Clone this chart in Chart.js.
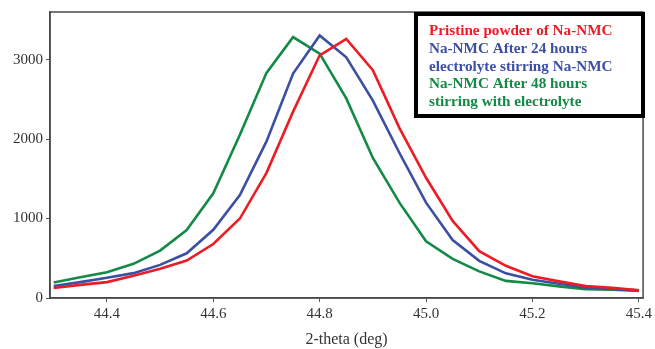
<!DOCTYPE html>
<html lang="en">
<head>
    <meta charset="UTF-8">
    <title>XRD peak around 44.8 deg</title>
    <script src="https://cdn.jsdelivr.net/npm/chart.js"></script>
    <style>
        body {
            margin: 0;
            background-color: #fff;
        }
        #wrap {
            width: 655px;
            height: 349px;
        }
    </style>
</head>
<body>
    <div id="wrap"><canvas id="xrdChart" width="655" height="349"></canvas></div>

    <script>
        // 2-theta positions (deg)
        var twoTheta = [44.30, 44.35, 44.40, 44.45, 44.50, 44.55, 44.60, 44.65, 44.70, 44.75, 44.80, 44.85,
                        44.90, 44.95, 45.00, 45.05, 45.10, 45.15, 45.20, 45.25, 45.30, 45.35, 45.40];

        // intensities
        var pristine = [125, 165, 200, 280, 367, 471, 680, 1000, 1575, 2346, 3055, 3262,
                        2868, 2138, 1513, 971, 590, 405, 275, 209, 150, 130, 96];
        var after24h = [150, 200, 255, 313, 417, 563, 859, 1296, 1971, 2825, 3305, 3030,
                        2484, 1825, 1200, 730, 468, 310, 230, 180, 130, 115, 96];
        var after48h = [195, 260, 325, 430, 596, 855, 1317, 2055, 2834, 3284, 3075, 2513,
                        1763, 1200, 713, 492, 335, 215, 185, 146, 110, 105, 88];

        var seriesNames = ['Pristine powder of Na-NMC', 'Na-NMC After 24 hours electrolyte stirring Na-NMC',
                           'Na-NMC After 48 hours stirring with electrolyte'];
        // legend lines as they are broken in the box
        var legendLines = [
            ['Pristine powder of Na-NMC'],
            ['Na-NMC After 24 hours', 'electrolyte stirring Na-NMC'],
            ['Na-NMC After 48 hours', 'stirring with electrolyte']
        ];
        var colors = ['#ec1c24', '#3b4fa3', '#138a45'];

        var xTicks = [44.4, 44.6, 44.8, 45.0, 45.2, 45.4];
        var yTicks = [0, 1000, 2000, 3000];

        function toPoints(values) {
            return values.map(function (v, i) { return { x: twoTheta[i], y: v }; });
        }

        // frame round the plot + the boxed legend
        var framePlugin = {
            id: 'frameAndLegend',
            afterDraw: function (chart) {
                var ctx = chart.ctx;
                var a = chart.chartArea;
                ctx.save();
                ctx.strokeStyle = '#4a4a4a';
                ctx.lineWidth = 1.5;
                ctx.strokeRect(a.left, a.top, a.right - a.left, a.bottom - a.top);

                // legend box
                var bx = 416, by = 14, bw = 227, bh = 102;
                ctx.fillStyle = '#fff';
                ctx.fillRect(bx, by, bw, bh);
                ctx.strokeStyle = '#000';
                ctx.lineWidth = 4;
                ctx.strokeRect(bx, by, bw, bh);

                ctx.font = 'bold 15.2px "Liberation Serif", "DejaVu Serif", serif';
                ctx.textBaseline = 'middle';
                ctx.textAlign = 'left';
                var y = 31.5;
                legendLines.forEach(function (lines, i) {
                    ctx.fillStyle = colors[i];
                    lines.forEach(function (t) {
                        ctx.fillText(t, 429, y);
                        y += 17.6;
                    });
                });
                ctx.restore();
            }
        };

        var ctx = document.getElementById('xrdChart').getContext('2d');
        var myChart = new Chart(ctx, {
            type: 'line',
            data: {
                datasets: [
                    { label: seriesNames[0], data: toPoints(pristine), borderColor: colors[0], backgroundColor: colors[0] },
                    { label: seriesNames[1], data: toPoints(after24h), borderColor: colors[1], backgroundColor: colors[1] },
                    { label: seriesNames[2], data: toPoints(after48h), borderColor: colors[2], backgroundColor: colors[2] }
                ]
            },
            options: {
                responsive: false,
                animation: false,
                layout: { padding: { top: 10, right: 8, left: 0, bottom: 0 } },
                elements: {
                    line: { borderWidth: 2.6, tension: 0 },
                    point: { radius: 0 }
                },
                plugins: {
                    legend: { display: false },
                    tooltip: { enabled: false }
                },
                scales: {
                    x: {
                        type: 'linear',
                        min: 44.293,
                        max: 45.408,
                        afterBuildTicks: function (axis) {
                            axis.ticks = xTicks.map(function (v) { return { value: v }; });
                        },
                        afterFit: function (axis) { axis.height = 51; },
                        grid: { drawOnChartArea: false, drawTicks: true, tickLength: 4, color: '#555' },
                        border: { display: true, color: '#4a4a4a', width: 1.5 },
                        ticks: {
                            padding: 3,
                            color: '#333',
                            font: { family: '"Liberation Serif", serif', size: 15 },
                            callback: function (v) { return Number(v).toFixed(1); }
                        },
                        title: {
                            display: true,
                            text: '2-theta (deg)',
                            color: '#333',
                            padding: { top: 0, bottom: 0 },
                            font: { family: '"Liberation Serif", serif', size: 16 }
                        }
                    },
                    y: {
                        min: 0,
                        max: 3600,
                        afterBuildTicks: function (axis) {
                            axis.ticks = yTicks.map(function (v) { return { value: v }; });
                        },
                        afterFit: function (axis) { axis.width = 50; },
                        grid: { drawOnChartArea: false, drawTicks: true, tickLength: 4, color: '#555' },
                        border: { display: true, color: '#4a4a4a', width: 1.5 },
                        ticks: {
                            padding: 3,
                            color: '#333',
                            font: { family: '"Liberation Serif", serif', size: 15 },
                            callback: function (v) { return String(v); }
                        }
                    }
                }
            },
            plugins: [framePlugin]
        });
    </script>
</body>
</html>
